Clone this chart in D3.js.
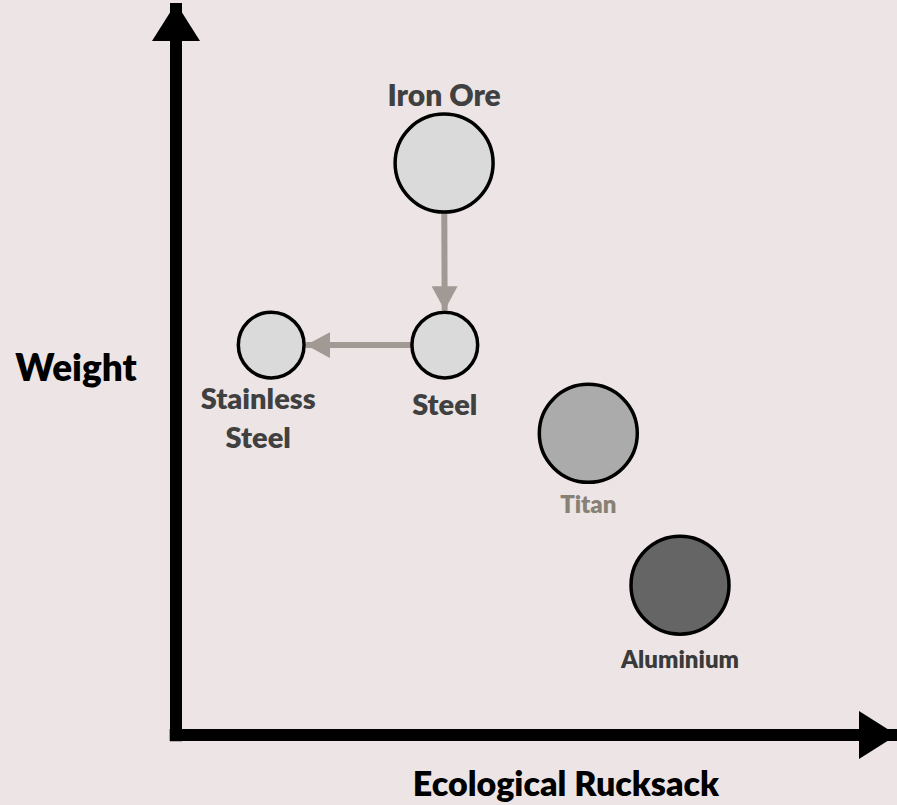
<!DOCTYPE html>
<html lang="en">
<head>
  <meta charset="UTF-8">
  <title>Weight vs Ecological Rucksack</title>
  <script src="https://d3js.org/d3.v7.min.js"></script>
  <style>
    html, body { margin: 0; padding: 0; background: #ede5e5; }
    svg { display: block; }
    text { font-family: Lato, "Open Sans", sans-serif; font-weight: 800; }
  </style>
</head>
<body>
  <svg id="chart" width="897" height="805"></svg>
  <script>
    // materials, positions on the two axes (0-100) and relative amount (circle area)
    const materials = ["Iron Ore", "Steel", "Stainless Steel", "Titan", "Aluminium"];
    const rucksack = [38.3, 38.4, 13.6, 58.9, 72.0];
    const weight = [81.7, 55.7, 55.7, 43.1, 21.4];
    const amount = [10, 4.5, 4.5, 10, 10];
    const fills = ["#dadada", "#dadada", "#dadada", "#ababab", "#656565"];
    // process flow: from -> to
    const flows = [["Iron Ore", "Steel"], ["Steel", "Stainless Steel"]];

    const svg = d3.select("#chart");
    const x = d3.scaleLinear().domain([0, 100]).range([176, 876]);
    const y = d3.scaleLinear().domain([0, 100]).range([735, 35]);
    const r = d3.scaleSqrt().domain([0, 10]).range([0, 49]);

    const defs = svg.append("defs");
    defs.append("marker").attr("id", "axisHead")
      .attr("viewBox", "0 0 10 10").attr("refX", 10).attr("refY", 5)
      .attr("markerUnits", "userSpaceOnUse")
      .attr("markerWidth", 38).attr("markerHeight", 48).attr("orient", "auto")
      .attr("preserveAspectRatio", "none")
      .append("path").attr("d", "M0,0L10,5L0,10Z").attr("fill", "#000");
    defs.append("marker").attr("id", "flowHead")
      .attr("viewBox", "0 0 10 10").attr("refX", 10).attr("refY", 5)
      .attr("markerUnits", "userSpaceOnUse")
      .attr("markerWidth", 24).attr("markerHeight", 26).attr("orient", "auto")
      .attr("preserveAspectRatio", "none")
      .append("path").attr("d", "M0,0L10,5L0,10Z").attr("fill", "#a19993");

    // axes
    svg.append("line")
      .attr("x1", x(0)).attr("y1", y(-0.9)).attr("x2", x(0)).attr("y2", 3)
      .attr("stroke", "#000").attr("stroke-width", 12)
      .attr("marker-end", "url(#axisHead)");
    svg.append("line")
      .attr("x1", x(-0.9)).attr("y1", y(0)).attr("x2", 897).attr("y2", y(0))
      .attr("stroke", "#000").attr("stroke-width", 12)
      .attr("marker-end", "url(#axisHead)");

    svg.append("text").attr("x", 76).attr("y", 381)
      .attr("text-anchor", "middle").attr("font-size", 37).attr("fill", "#000")
      .text("Weight");
    svg.append("text").attr("x", 566).attr("y", 796)
      .attr("text-anchor", "middle").attr("font-size", 34).attr("fill", "#000")
      .text("Ecological Rucksack");

    const nodes = materials.map((m, i) => ({
      name: m, cx: x(rucksack[i]), cy: y(weight[i]), r: r(amount[i]), fill: fills[i]
    }));
    const byName = Object.fromEntries(nodes.map(n => [n.name, n]));

    // flow arrows
    flows.forEach(([a, b]) => {
      const s = byName[a], t = byName[b];
      const dx = t.cx - s.cx, dy = t.cy - s.cy, len = Math.hypot(dx, dy);
      const ux = dx / len, uy = dy / len;
      svg.append("line")
        .attr("x1", s.cx + ux * s.r).attr("y1", s.cy + uy * s.r)
        .attr("x2", t.cx - ux * (t.r + 2)).attr("y2", t.cy - uy * (t.r + 2))
        .attr("stroke", "#a19993").attr("stroke-width", 6)
        .attr("marker-end", "url(#flowHead)");
    });

    svg.selectAll("circle.mat").data(nodes).enter().append("circle")
      .attr("class", "mat")
      .attr("cx", d => d.cx).attr("cy", d => d.cy).attr("r", d => d.r)
      .attr("fill", d => d.fill).attr("stroke", "#000").attr("stroke-width", 3.5);

    // labels
    const labels = [
      { name: "Iron Ore", lines: ["Iron Ore"], dx: 0, dy: -57, size: 30, color: "#404040" },
      { name: "Steel", lines: ["Steel"], dx: 0, dy: 70, size: 29, color: "#404040" },
      { name: "Stainless Steel", lines: ["Stainless", "Steel"], dx: -13, dy: 64, size: 29, color: "#404040" },
      { name: "Titan", lines: ["Titan"], dx: 0, dy: 80, size: 24, color: "#878075" },
      { name: "Aluminium", lines: ["Aluminium"], dx: 0, dy: 83, size: 24, color: "#3a3a3a" }
    ];
    labels.forEach(l => {
      const n = byName[l.name];
      const t = svg.append("text")
        .attr("text-anchor", "middle").attr("font-size", l.size).attr("fill", l.color);
      l.lines.forEach((line, i) => {
        t.append("tspan").attr("x", n.cx + l.dx).attr("y", n.cy + l.dy + i * 39).text(line);
      });
    });
  </script>
</body>
</html>
